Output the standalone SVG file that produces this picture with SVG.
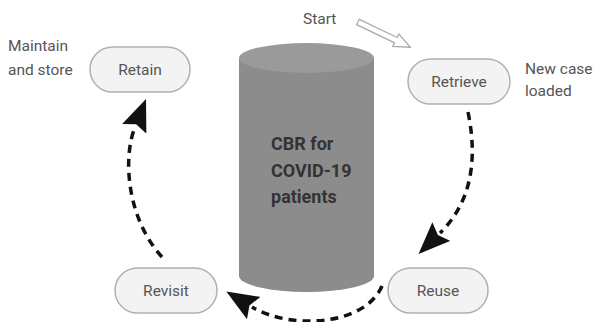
<svg xmlns="http://www.w3.org/2000/svg" width="596" height="322" viewBox="0 0 596 322">
<style>
.pill{fill:#f3f3f3;stroke:#b0b0b0;stroke-width:1.5}
.lbl{font-family:Roboto,"Liberation Sans",sans-serif;font-size:15.5px;fill:#555;text-anchor:middle}
.note{font-family:Roboto,"Liberation Sans",sans-serif;font-size:15.5px;fill:#555}
.cbr{font-family:Roboto,"Liberation Sans",sans-serif;font-size:18px;font-weight:bold;fill:#333}
.flow{fill:none;stroke:#111;stroke-width:3.5;stroke-dasharray:8 6}
</style>
<defs>
<marker id="ah" markerUnits="userSpaceOnUse" markerWidth="32" markerHeight="26" refX="2" refY="13" orient="auto" viewBox="0 0 32 26">
<path d="M0,0 L32,13 L0,26 L5,13 z" fill="#111"/>
</marker>
</defs>
<rect width="596" height="322" fill="#fff"/>
<g id="db">
<path d="M239,58 L239,276 A67.5,16 0 0 0 374,276 L374,58 z" fill="#8c8c8c"/>
<ellipse cx="306.5" cy="58" rx="67.5" ry="15" fill="#9a9a9a"/>
<text class="cbr" x="271" y="150">CBR for</text>
<text class="cbr" x="271" y="177">COVID-19</text>
<text class="cbr" x="271" y="203">patients</text>
</g>
<g id="retain">
<rect class="pill" x="90" y="47" width="100" height="45" rx="22.5"/>
<text class="lbl" x="140" y="75">Retain</text>
</g>
<g id="retrieve">
<rect class="pill" x="408" y="59" width="102" height="45" rx="22.5"/>
<text class="lbl" x="459" y="87">Retrieve</text>
</g>
<g id="reuse">
<rect class="pill" x="388" y="268" width="100" height="45" rx="22.5"/>
<text class="lbl" x="438" y="296">Reuse</text>
</g>
<g id="revisit">
<rect class="pill" x="115" y="268" width="102" height="45" rx="22.5"/>
<text class="lbl" x="166" y="296">Revisit</text>
</g>
<g id="notes">
<text class="note" x="8" y="51">Maintain</text>
<text class="note" x="8" y="75">and store</text>
<text class="note" x="525" y="74">New case</text>
<text class="note" x="525" y="96">loaded</text>
<text class="note" x="303" y="24">Start</text>
</g>
<g id="connectors">
<polygon points="359.3,19.3 397.1,37.5 398.8,33.9 410.3,47.2 392.8,46.5 394.5,42.9 356.7,24.7" fill="#fff" stroke="#aaa" stroke-width="1.3"/>
<path class="flow" d="M468,112 Q484,190 440,233" marker-end="url(#ah)"/>
<path class="flow" d="M382,286 C365,326 290,330 252,307" marker-end="url(#ah)"/>
<path class="flow" d="M162,257 C128,220 122,160 135,127" marker-end="url(#ah)"/>
</g>
</svg>
